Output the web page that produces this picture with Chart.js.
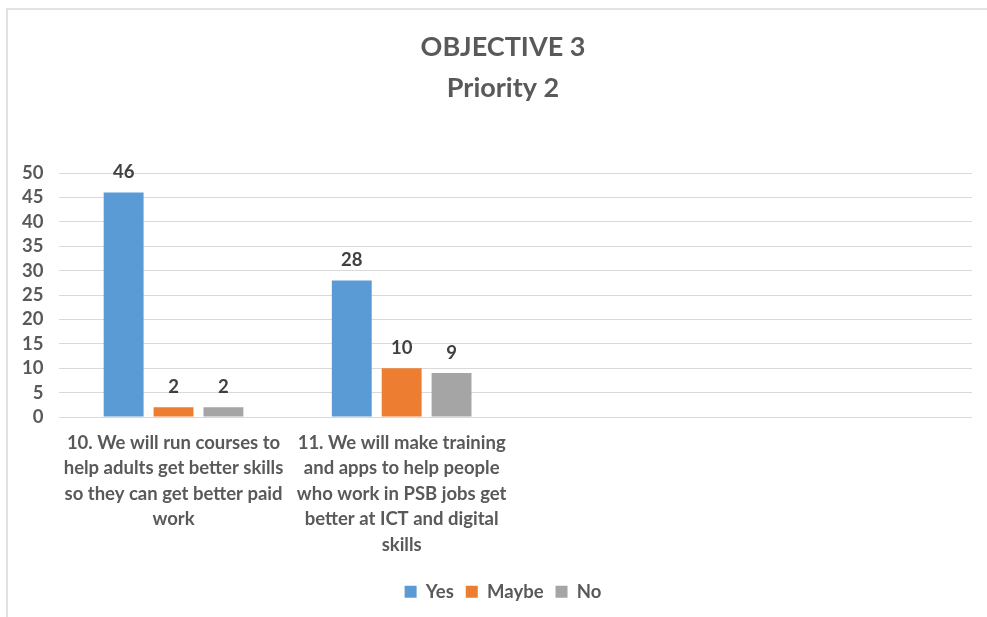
<!DOCTYPE html>
<html>
<head>
<meta charset="utf-8">
<script src="https://cdn.jsdelivr.net/npm/chart.js@4"></script>
<style>
    html, body { margin: 0; padding: 0; background: #fff; overflow: hidden; }
    body { width: 987px; height: 617px; position: relative; }
    .frame {
        position: absolute; left: 6px; top: 8px; width: 1000px; height: 700px;
        border-left: 2px solid #e2e2e2; border-top: 2px solid #e2e2e2;
    }
    .wrap { position: absolute; left: 6px; top: 10px; width: 994px; height: 607px; }
</style>
</head>
<body>
<div class="frame"></div>
<div class="wrap"><canvas id="grafica"></canvas></div>
<script>
// Datos de la encuesta
const categorias = [
    ["10. We will run courses to", "help adults get better skills", "so they can get better paid", "work"],
    ["11. We will make training", "and apps to help people", "who work in PSB jobs get", "better at ICT and digital", "skills"],
    "",
    ""
];
const valoresYes = [46, 28, null, null];
const valoresMaybe = [2, 10, null, null];
const valoresNo = [2, 9, null, null];
const titulo = ["OBJECTIVE 3", "Priority 2"];

const fuente = "Lato, 'Open Sans', sans-serif";
const tamTexto = 18.5;

// Etiquetas de valor encima de cada barra
const etiquetasValor = {
    id: 'etiquetasValor',
    afterDatasetsDraw(chart) {
        const ctx = chart.ctx;
        ctx.save();
        ctx.font = "bold " + tamTexto + "px " + fuente;
        ctx.fillStyle = "#404040";
        ctx.textAlign = "center";
        ctx.textBaseline = "bottom";
        chart.data.datasets.forEach((ds, i) => {
            chart.getDatasetMeta(i).data.forEach((bar, j) => {
                if (ds.data[j] == null) return;
                ctx.fillText(ds.data[j], bar.x, bar.y - 11);
            });
        });
        ctx.restore();
    }
};

new Chart(document.getElementById("grafica"), {
    type: "bar",
    data: {
        labels: categorias,
        datasets: [
            { label: "Yes", data: valoresYes, backgroundColor: "#5b9bd5" },
            { label: "Maybe", data: valoresMaybe, backgroundColor: "#ed7d31" },
            { label: "No", data: valoresNo, backgroundColor: "#a5a5a5" }
        ]
    },
    options: {
        responsive: true,
        maintainAspectRatio: false,
        animation: false,
        categoryPercentage: 0.656,
        barPercentage: 0.8,
        layout: { padding: { left: 0, right: 0, top: 0, bottom: 6 } },
        plugins: {
            title: {
                display: true,
                text: titulo,
                color: "#595959",
                font: { family: fuente, size: 27, weight: "bold", lineHeight: 1.52 },
                padding: { top: 16.5, bottom: 64.5 }
            },
            legend: {
                position: "bottom",
                labels: {
                    color: "#595959",
                    font: { family: fuente, size: tamTexto, weight: "bold" },
                    boxWidth: 12,
                    boxHeight: 12,
                    padding: 12
                }
            },
            tooltip: { enabled: false }
        },
        scales: {
            x: {
                grid: { display: false, drawTicks: false },
                border: { display: false },
                ticks: {
                    color: "#595959",
                    font: { family: fuente, size: tamTexto, weight: "bold", lineHeight: 25.5 / tamTexto },
                    maxRotation: 0,
                    autoSkip: false,
                    padding: 13
                }
            },
            y: {
                min: 0,
                max: 50,
                border: { display: false },
                grid: { color: "#d9d9d9", lineWidth: 1, drawTicks: false },
                ticks: {
                    stepSize: 5,
                    autoSkip: false,
                    color: "#595959",
                    font: { family: fuente, size: tamTexto, weight: "bold" },
                    padding: 16
                }
            },
            // margen derecho vacío
            yDer: {
                position: "right",
                grid: { display: false },
                border: { display: false },
                ticks: { display: false },
                afterFit: (escala) => { escala.width = 28; }
            }
        }
    },
    plugins: [etiquetasValor]
});
</script>
</body>
</html>
